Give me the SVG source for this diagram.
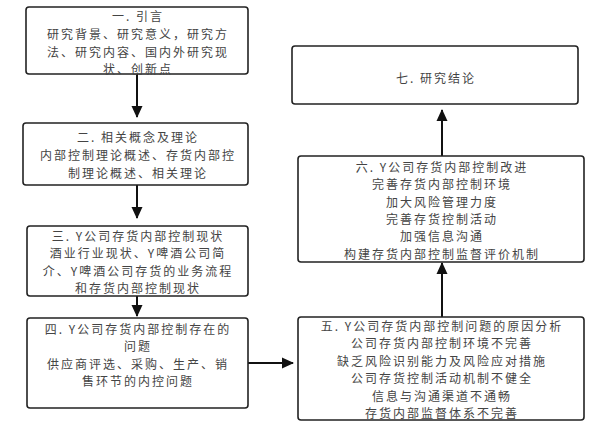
<svg xmlns="http://www.w3.org/2000/svg" width="600" height="428" viewBox="0 0 600 428">
<defs>
<marker id="ah" markerUnits="userSpaceOnUse" markerWidth="12" markerHeight="16" viewBox="0 0 12 16" refX="11" refY="8" orient="auto">
<path d="M0,2.5 L12,8 L0,13.5 Z" fill="#111"/>
</marker>
</defs>
<style>
.box{fill:#fff;stroke:#222;stroke-width:1.6}
.t{font-family:"Noto Sans CJK SC","Liberation Sans",sans-serif;font-size:12px;letter-spacing:2px;fill:#444;text-anchor:middle;dominant-baseline:central}
.c{stroke:#111;stroke-width:2;fill:none;marker-end:url(#ah)}
</style>
<rect width="600" height="428" fill="#fff"/>
<g id="connectors">
<line class="c" x1="137" y1="74" x2="137" y2="117"/>
<line class="c" x1="137" y1="185" x2="137" y2="218"/>
<line class="c" x1="137" y1="296" x2="137" y2="316"/>
<line class="c" x1="248" y1="363" x2="293" y2="363"/>
<line class="c" x1="442" y1="317" x2="442" y2="263"/>
<line class="c" x1="442" y1="156" x2="442" y2="110"/>
</g>
<g id="n1">
<rect class="box" x="26" y="7" width="222" height="67" rx="3"/>
<text class="t" x="138" y="15">一. 引言</text>
<text class="t" x="138" y="33">研究背景、研究意义，研究方</text>
<text class="t" x="138" y="51">法、研究内容、国内外研究现</text>
<text class="t" x="138" y="68">状、创新点</text>
</g>
<g id="n2">
<rect class="box" x="23" y="123" width="225" height="62" rx="3"/>
<text class="t" x="138" y="136">二. 相关概念及理论</text>
<text class="t" x="138" y="154">内部控制理论概述、存货内部控</text>
<text class="t" x="138" y="172">制理论概述、相关理论</text>
</g>
<g id="n3">
<rect class="box" x="27" y="226" width="221" height="70" rx="3"/>
<text class="t" x="138" y="235">三. Y公司存货内部控制现状</text>
<text class="t" x="138" y="252">酒业行业现状、Y啤酒公司简</text>
<text class="t" x="138" y="270">介、Y啤酒公司存货的业务流程</text>
<text class="t" x="138" y="287">和存货内部控制现状</text>
</g>
<g id="n4">
<rect class="box" x="27" y="318" width="221" height="90" rx="3"/>
<text class="t" x="138" y="328">四. Y公司存货内部控制存在的</text>
<text class="t" x="138" y="345">问题</text>
<text class="t" x="138" y="363">供应商评选、采购、生产、销</text>
<text class="t" x="138" y="380">售环节的内控问题</text>
</g>
<g id="n5">
<rect class="box" x="298" y="317" width="286" height="103" rx="3"/>
<text class="t" x="442" y="325">五. Y公司存货内部控制问题的原因分析</text>
<text class="t" x="442" y="342">公司存货内部控制环境不完善</text>
<text class="t" x="442" y="360">缺乏风险识别能力及风险应对措施</text>
<text class="t" x="442" y="377">公司存货控制活动机制不健全</text>
<text class="t" x="442" y="395">信息与沟通渠道不通畅</text>
<text class="t" x="442" y="412">存货内部监督体系不完善</text>
</g>
<g id="n6">
<rect class="box" x="298" y="156" width="286" height="106" rx="3"/>
<text class="t" x="442" y="166">六. Y公司存货内部控制改进</text>
<text class="t" x="442" y="183">完善存货内部控制环境</text>
<text class="t" x="442" y="201">加大风险管理力度</text>
<text class="t" x="442" y="218">完善存货控制活动</text>
<text class="t" x="442" y="235">加强信息沟通</text>
<text class="t" x="442" y="253">构建存货内部控制监督评价机制</text>
</g>
<g id="n7">
<rect class="box" x="292" y="46" width="286" height="58" rx="3"/>
<text class="t" x="436" y="77">七. 研究结论</text>
</g>
</svg>
